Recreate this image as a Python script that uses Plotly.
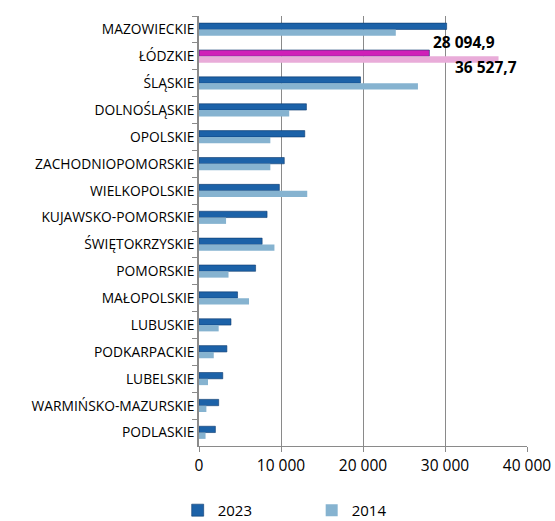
import plotly.graph_objects as go

regions = ['MAZOWIECKIE', 'ŁÓDZKIE', 'ŚLĄSKIE', 'DOLNOŚLĄSKIE', 'OPOLSKIE', 'ZACHODNIOPOMORSKIE',
           'WIELKOPOLSKIE', 'KUJAWSKO-POMORSKIE', 'ŚWIĘTOKRZYSKIE', 'POMORSKIE', 'MAŁOPOLSKIE',
           'LUBUSKIE', 'PODKARPACKIE', 'LUBELSKIE', 'WARMIŃSKO-MAZURSKIE', 'PODLASKIE']
values_2023 = [30200, 28094.9, 19700, 13100, 12900, 10400, 9800, 8300, 7700, 6900, 4700, 3900, 3400, 2900, 2400, 2000]
values_2014 = [24000, 36527.7, 26700, 11000, 8700, 8700, 13200, 3300, 9200, 3600, 6100, 2400, 1800, 1100, 900, 800]
highlight = 'ŁÓDZKIE'

dark = '#1c62a8'
light = '#86b3d0'
col_2023 = ['#d020b8' if r == highlight else dark for r in regions]
col_2014 = ['#e9acd9' if r == highlight else light for r in regions]

font = 'Open Sans'

fig = go.Figure()
fig.add_trace(go.Bar(y=regions, x=values_2023, orientation='h', name='2023',
                     marker=dict(color=col_2023, line=dict(color='#0d3a6e', width=0.6))))
fig.add_trace(go.Bar(y=regions, x=values_2014, orientation='h', name='2014',
                     marker=dict(color=col_2014, line=dict(width=0))))

i = regions.index(highlight)
fig.add_annotation(x=values_2023[i], y=regions[i], text='<b>28 094,9</b>', showarrow=False,
                   xanchor='left', xshift=2, yshift=14, font=dict(family=font, size=15.5, color='black'))
fig.add_annotation(x=values_2014[i], y=regions[i], text='<b>36 527,7</b>', showarrow=False,
                   xanchor='right', xshift=20, yshift=-11, font=dict(family=font, size=15.5, color='black'))

fig.update_layout(
    width=555, height=521,
    margin=dict(l=199, r=28, t=16, b=75),
    barmode='group', bargap=0.53, bargroupgap=0,
    paper_bgcolor='white', plot_bgcolor='white',
    separators=', ',
    font=dict(family=font, size=12, color='black'),
    legend=dict(orientation='h', x=-0.065, xref='paper', y=0.052, yref='container',
                xanchor='left', yanchor='top',
                entrywidth=89, font=dict(size=15), itemwidth=30, tracegroupgap=0),
)
fig.update_xaxes(range=[0, 40000], dtick=10000, tickformat=',', showgrid=True, gridcolor='#8a8a8a',
                 gridwidth=1, showline=True, linecolor='#8a8a8a', ticks='outside', tickcolor='#8a8a8a',
                 ticklen=5, tickfont=dict(size=15.5), zeroline=False, automargin=False)
fig.update_yaxes(autorange='reversed', showline=True, linecolor='#8a8a8a', linewidth=1.5,
                 ticks='outside', tickson='boundaries', tickcolor='#8a8a8a', ticklen=5,
                 tickfont=dict(size=13.8), showgrid=False, automargin=False)

# drop the default body margin so the full-size figure fits the window
fig.write_html('out.html', config={'displayModeBar': False},
               post_script="document.body.style.margin='0';")
